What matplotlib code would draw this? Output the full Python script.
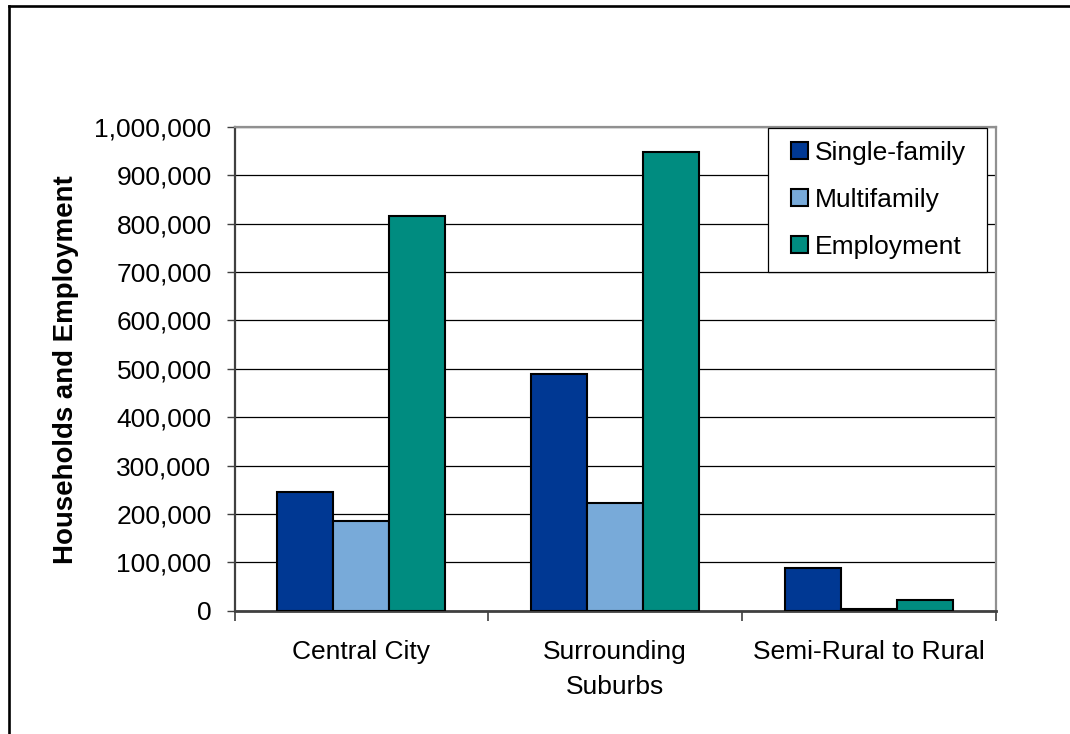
import matplotlib
matplotlib.use("Agg")
import matplotlib.pyplot as plt
import numpy as np
from matplotlib.patches import Rectangle
from matplotlib.legend_handler import HandlerPatch
from matplotlib.lines import Line2D
from matplotlib.ticker import FuncFormatter, FixedLocator

plt.rcParams['font.family'] = ['Liberation Sans', 'DejaVu Sans']

categories = ["Central City", "Surrounding\nSuburbs", "Semi-Rural to Rural"]
series_names = ["Single-family", "Multifamily", "Employment"]
single_family = [246000, 490000, 89000]
multifamily = [186000, 223000, 4000]
employment = [815000, 948000, 21500]
yticks = [0, 100000, 200000, 300000, 400000, 500000, 600000, 700000, 800000, 900000, 1000000]

colors = ["#003893", "#78AAD9", "#008C80"]
FS = 19

fig = plt.figure(figsize=(10.70, 7.34), dpi=100)
ax = fig.add_axes([0.21916, 0.16798, 0.7114, 0.6594])

x = np.arange(len(categories))
w = 0.221
containers = []
for i, (vals, c, name) in enumerate(zip([single_family, multifamily, employment], colors, series_names)):
    bc = ax.bar(x + (i - 1) * w, vals, width=w, color=c, edgecolor="black", linewidth=1.5,
                label=name, zorder=3)
    containers.append(bc)

ax.set_xlim(-0.5, 2.5)
ax.set_ylim(0, 1000000)
ax.set_yticks(yticks)
ax.yaxis.set_major_formatter(FuncFormatter(lambda v, p: f"{v:,.0f}"))
ax.grid(axis="y", color="black", linewidth=0.9, zorder=0)
ax.set_axisbelow(True)

ax.set_xticks(x)
ax.set_xticklabels(categories, fontsize=FS, linespacing=1.6)
ax.xaxis.set_minor_locator(FixedLocator([-0.5, 0.5, 1.5, 2.5]))
ax.tick_params(axis="x", which="major", length=0, pad=21)
ax.tick_params(axis="x", which="minor", length=7, width=1.2, color="#404040", direction="out")
ax.tick_params(axis="y", which="major", length=5.5, width=1.0, color="#404040", pad=11, labelsize=FS)

for s in ["top", "right"]:
    ax.spines[s].set_color("#909090")
    ax.spines[s].set_linewidth(1.6)
ax.spines["left"].set_color("#404040")
ax.spines["left"].set_linewidth(1.6)
ax.spines["bottom"].set_color("#404040")
ax.spines["bottom"].set_linewidth(2.0)

fig.text(66 / 1070, 1 - 370 / 734, "Households and Employment", rotation=90,
         ha="center", va="center", fontsize=19.9, fontweight="bold")

def square_handle(legend, orig_handle, xdescent, ydescent, width, height, fontsize):
    s = 0.64 * fontsize
    return Rectangle((width - s - xdescent, (height - s) / 2 - ydescent), s, s)

handles = [bc.patches[0] for bc in containers]
leg = ax.legend(handles, series_names, loc="upper left",
                bbox_to_anchor=(0.7008, 0.0, 0.2878, 0.9973),
                mode="expand", borderaxespad=0, borderpad=0.48, fontsize=FS,
                handlelength=1.04, handleheight=0.7, handletextpad=0.27,
                labelspacing=0.88, fancybox=False, framealpha=1, edgecolor="black",
                handler_map={Rectangle: HandlerPatch(patch_func=square_handle)})
leg.get_frame().set_linewidth(0.9)
for p in leg.get_patches():
    p.set_edgecolor("black")
    p.set_linewidth(1.5)

# outer chart border (left and top edges visible)
fig.add_artist(Line2D([8.5 / 1070, 8.5 / 1070], [0, 1 - 5.5 / 734], color="black", linewidth=1.9,
                      transform=fig.transFigure))
fig.add_artist(Line2D([8.5 / 1070, 1.0], [1 - 5.5 / 734, 1 - 5.5 / 734], color="black", linewidth=1.9,
                      transform=fig.transFigure))

fig.savefig("out.png", dpi=100)
